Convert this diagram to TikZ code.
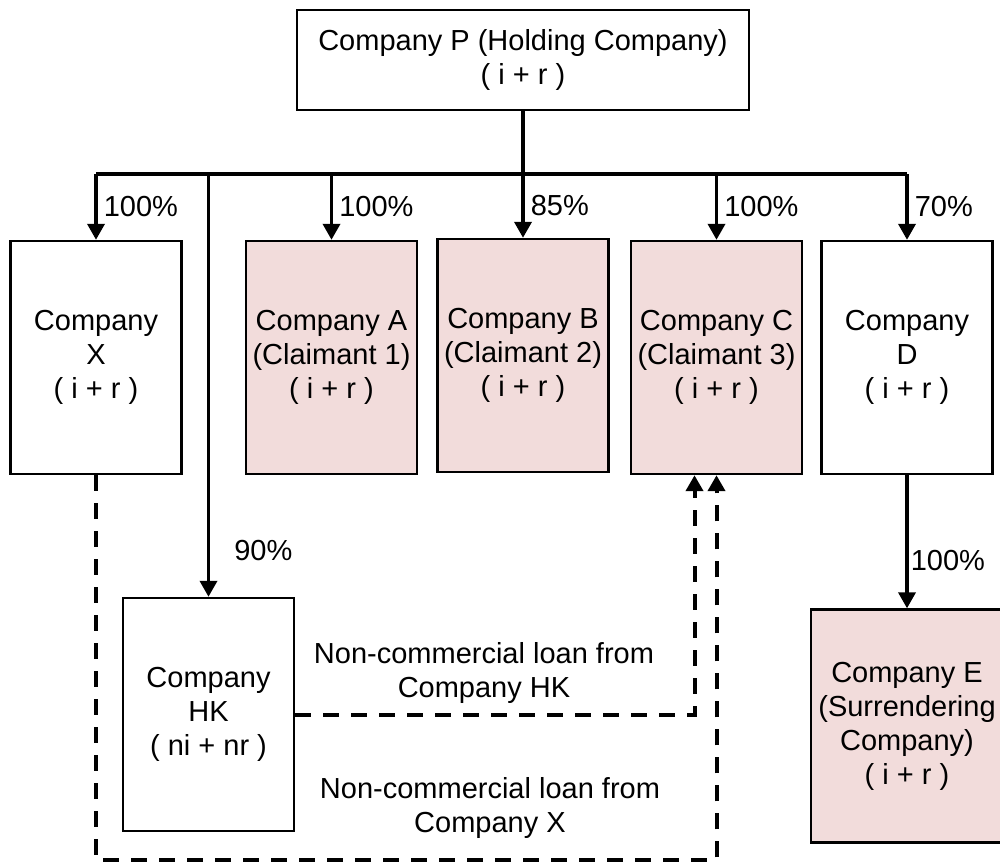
\documentclass[tikz,border=0pt]{standalone}
\usepackage{fontspec}
\setmainfont{Liberation Sans}
\usepackage{tikz}
\usetikzlibrary{arrows.meta}
\usetikzlibrary{positioning}
\definecolor{claimpink}{HTML}{F2DCDB}

\begin{document}
\begin{tikzpicture}[x=0.5pt, y=-0.5pt,
        every node/.style={font=\fontsize{14.5}{17}\selectfont, align=center},
        company/.style={rectangle, draw=black, fill=white, line width=1.2pt, minimum width=85.5pt, minimum height=116.5pt, inner sep=0pt},
        claimant/.style={company, fill=claimpink},
        holding/.style={rectangle, draw=black, fill=white, line width=1.2pt, minimum width=226pt, minimum height=50pt},
        busline/.style={line width=1.8pt},
        own/.style={line width=1.8pt, -{Triangle[width=8.5pt, length=8pt]}},
        loan/.style={line width=2pt, dash pattern=on 8pt off 6pt, -{Triangle[width=8.5pt, length=8pt]}},
        pct/.style={right, inner sep=3pt}
      ]
        \useasboundingbox (0,0) rectangle (1000,863);
        \clip (0,0) rectangle (1000,863);

        \node[holding]  (P)   at (523, 60)       {Company P (Holding Company)\\( i + r )};
        \node[company]  (X)   at (96, 357.5)     {Company\\X\\( i + r )};
        \node[claimant] (A)   at (331.5, 357.5)  {Company A\\(Claimant 1)\\( i + r )};
        \node[claimant] (B)   at (523, 355.5)    {Company B\\(Claimant 2)\\( i + r )};
        \node[claimant] (C)   at (716.5, 357.5)  {Company C\\(Claimant 3)\\( i + r )};
        \node[company]  (D)   at (907, 357.5)    {Company\\D\\( i + r )};
        \node[company]  (HK)  at (208.5, 714.5)  {Company\\HK\\( ni + nr )};
        \node[claimant, minimum width=96pt] (E) at (907, 726) {Company E\\(Surrendering\\Company)\\( i + r )};

        \coordinate (bus)   at (523, 174);
        \coordinate (floor) at (96, 860);

        \draw[busline] (P.south) -- (bus);
        \draw[busline] (bus -| X.north) -- (bus -| D.north);
        \foreach \c/\v in {X/100, A/100, B/85, C/100, D/70}
          \draw[own] (bus -| \c.north) -- node[pct] {\v\%} (\c.north);
        \draw[own] (bus -| HK.north) -- node[pct, pos=0.89, xshift=9pt] {90\%} (HK.north);
        \draw[own] (D.south) -- node[pct, pos=0.64, inner sep=1pt] {100\%} (E.north);

        \draw[loan] (HK.east) -| ([xshift=-11pt]C.south);
        \draw[loan] (X.south) -- (X.south |- floor) -| (C.south);

        \node (hkloan) at (484, 673) {Non-commercial loan from\\Company HK};
        \node (xloan)  at (490, 808) {Non-commercial loan from\\Company X};
      \end{tikzpicture}
\end{document}
